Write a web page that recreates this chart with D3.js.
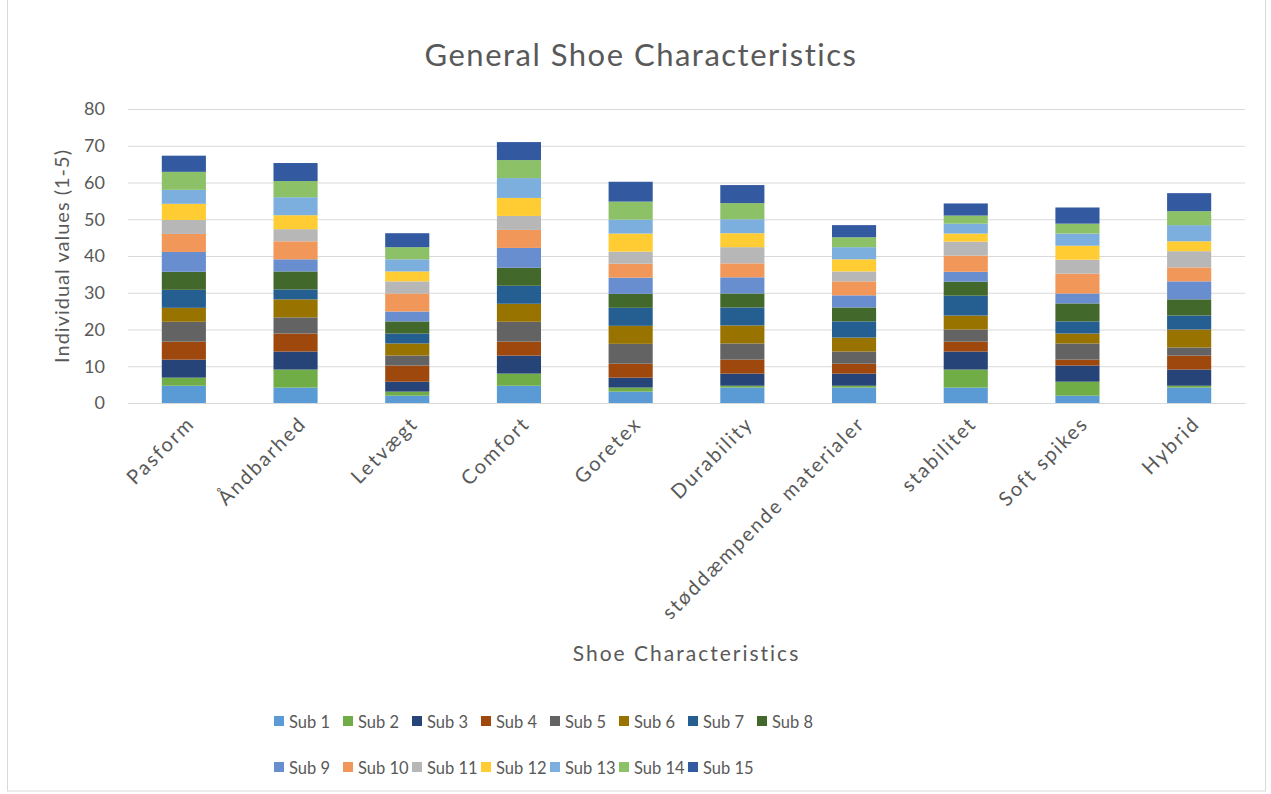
<!DOCTYPE html>
<html>
<head>
<meta charset="utf-8">
<script src="https://cdn.jsdelivr.net/npm/d3@7"></script>
<style>
  body { margin: 0; background: #fff; }
  text { font-family: Lato, "Open Sans", sans-serif; fill: #595959; }
</style>
</head>
<body>
<svg id="shoegraph"></svg>
<script>
// categories on the x axis
var categories = ["Pasform", "Åndbarhed", "Letvægt", "Comfort", "Goretex", "Durability",
                  "støddæmpende materialer", "stabilitet", "Soft spikes", "Hybrid"];

var subNames = ["Sub 1", "Sub 2", "Sub 3", "Sub 4", "Sub 5", "Sub 6", "Sub 7", "Sub 8",
                "Sub 9", "Sub 10", "Sub 11", "Sub 12", "Sub 13", "Sub 14", "Sub 15"];

var subColors = ["#5B9BD5", "#70AD47", "#264478", "#9E480E", "#636363", "#997300", "#255E91",
                 "#43682B", "#698ED0", "#F1975A", "#B7B7B7", "#FFCD33", "#7CAFDD", "#8CC168", "#335AA1"];

// one list per sub, values in category order
var sub1  = [4.7, 4.2, 2.0, 4.7, 3.1, 4.2, 4.2, 4.2, 2.0, 4.2];
var sub2  = [2.2, 4.9, 1.1, 3.3, 1.1, 0.5, 0.5, 4.9, 3.8, 0.5];
var sub3  = [4.9, 4.9, 2.7, 4.9, 2.7, 3.3, 3.3, 4.9, 4.4, 4.4];
var sub4  = [4.9, 4.9, 4.4, 3.8, 3.8, 3.8, 2.7, 2.7, 1.6, 3.8];
var sub5  = [5.4, 4.4, 2.7, 5.4, 5.4, 4.4, 3.3, 3.3, 4.4, 2.2];
var sub6  = [3.8, 4.9, 3.3, 4.9, 4.9, 4.9, 3.8, 3.8, 2.7, 4.9];
var sub7  = [4.9, 2.7, 2.7, 4.9, 4.9, 4.9, 4.4, 5.4, 3.3, 3.8];
var sub8  = [4.9, 4.9, 3.3, 4.9, 3.8, 3.8, 3.8, 3.8, 4.9, 4.4];
var sub9  = [5.4, 3.3, 2.7, 5.4, 4.4, 4.4, 3.3, 2.7, 2.7, 4.9];
var sub10 = [4.9, 4.9, 4.9, 4.9, 3.8, 3.8, 3.8, 4.4, 5.4, 3.8];
var sub11 = [3.8, 3.3, 3.3, 3.8, 3.3, 4.4, 2.7, 3.8, 3.8, 4.4];
var sub12 = [4.4, 3.8, 2.7, 4.9, 4.9, 3.8, 3.3, 2.2, 3.8, 2.7];
var sub13 = [3.8, 4.9, 3.3, 5.4, 3.8, 3.8, 3.3, 2.7, 3.3, 4.4];
var sub14 = [4.9, 4.4, 3.3, 4.9, 4.9, 4.4, 2.7, 2.2, 2.7, 3.8];
var sub15 = [4.4, 4.9, 3.8, 4.9, 5.4, 4.9, 3.3, 3.3, 4.4, 4.9];

var subValues = [sub1, sub2, sub3, sub4, sub5, sub6, sub7, sub8,
                 sub9, sub10, sub11, sub12, sub13, sub14, sub15];

var yTicks = [0, 10, 20, 30, 40, 50, 60, 70, 80];

var initShoeGraph = function()
{
    var screen = {width: 1271, height: 794};
    var margins = {left: 128, right: 26, top: 109, bottom: 391};
    var graph = {
        width: screen.width - margins.left - margins.right,
        height: screen.height - margins.top - margins.bottom
    };

    var svg = d3.select("#shoegraph")
                .attr("width", screen.width)
                .attr("height", screen.height);

    // chart border
    svg.append("rect")
       .attr("x", 7.5).attr("y", -1)
       .attr("width", 1258).attr("height", 792)
       .attr("fill", "none")
       .attr("stroke", "#d9d9d9");

    // build table rows for the stack
    var rows = categories.map(function(cat, i)
    {
        var row = {category: cat};
        subNames.forEach(function(s, j) { row[s] = subValues[j][i]; });
        return row;
    });

    var stack = d3.stack().keys(subNames);
    var series = stack(rows);

    var xScale = d3.scaleBand()
        .domain(categories)
        .range([0, graph.width])
        .paddingInner(0.605)
        .paddingOuter(0.3025);

    var yScale = d3.scaleLinear()
        .domain([0, 80])
        .range([graph.height, 0]);

    var target = svg.append("g")
        .attr("transform", "translate(" + margins.left + "," + margins.top + ")");

    // gridlines
    var yAxis = d3.axisLeft(yScale)
        .tickValues(yTicks)
        .tickSize(-graph.width)
        .tickPadding(23);

    var axisG = target.append("g").call(yAxis);
    axisG.select(".domain").remove();
    axisG.selectAll(".tick line").attr("stroke", "#d9d9d9").attr("stroke-width", 1);
    axisG.selectAll(".tick text")
         .attr("fill", "#595959")
         .style("font-size", "18px")
         .style("font-family", "Lato, sans-serif");

    // bars
    target.selectAll("g.series")
          .data(series)
          .enter()
          .append("g")
          .attr("class", "series")
          .attr("fill", function(s, i) { return subColors[i]; })
          .selectAll("rect")
          .data(function(s) { return s; })
          .enter()
          .append("rect")
          .attr("x", function(d) { return xScale(d.data.category); })
          .attr("y", function(d) { return yScale(d[1]); })
          .attr("height", function(d) { return yScale(d[0]) - yScale(d[1]); })
          .attr("width", xScale.bandwidth());

    // x axis line and labels
    var xAxis = d3.axisBottom(xScale).tickSize(0).tickPadding(0);
    var xG = target.append("g")
        .attr("transform", "translate(0," + graph.height + ")")
        .call(xAxis);
    xG.select(".domain").attr("stroke", "#d9d9d9");
    xG.selectAll(".tick text")
      .attr("fill", "#595959")
      .style("font-size", "20px")
      .style("letter-spacing", "2px")
      .style("font-family", "Lato, sans-serif")
      .attr("text-anchor", "end")
      .attr("dy", "0")
      .attr("y", 0)
      .attr("transform", "translate(12,22) rotate(-45)");

    // labels
    svg.append("text")
       .text("General Shoe Characteristics")
       .attr("text-anchor", "middle")
       .attr("x", 641)
       .attr("y", 66)
       .style("font-size", "31px")
       .style("letter-spacing", "1.5px");

    svg.append("text")
       .text("Shoe Characteristics")
       .attr("text-anchor", "middle")
       .attr("x", margins.left + graph.width / 2)
       .attr("y", 661)
       .style("font-size", "21px")
       .style("letter-spacing", "2px");

    svg.append("g")
       .attr("transform", "translate(69," + (margins.top + graph.height / 2) + ")")
       .append("text")
       .text("Individual values (1-5)")
       .attr("text-anchor", "middle")
       .attr("transform", "rotate(-90)")
       .style("font-size", "20px")
       .style("letter-spacing", "1px");

    // legend
    var legend = svg.append("g").attr("class", "legend");
    var entries = legend.selectAll("g")
        .data(subNames)
        .enter()
        .append("g")
        .attr("transform", function(name, i)
        {
            var row = i < 8 ? 0 : 1;
            var col = i < 8 ? i : i - 8;
            return "translate(" + (274 + col * 69) + "," + (721 + row * 46) + ")";
        });

    entries.append("rect")
           .attr("x", 0).attr("y", -5)
           .attr("width", 10).attr("height", 10)
           .attr("fill", function(name, i) { return subColors[i]; });

    entries.append("text")
           .text(function(name) { return name; })
           .attr("x", 15)
           .attr("y", 6.5)
           .style("font-size", "16.5px");
};

initShoeGraph();
</script>
</body>
</html>
